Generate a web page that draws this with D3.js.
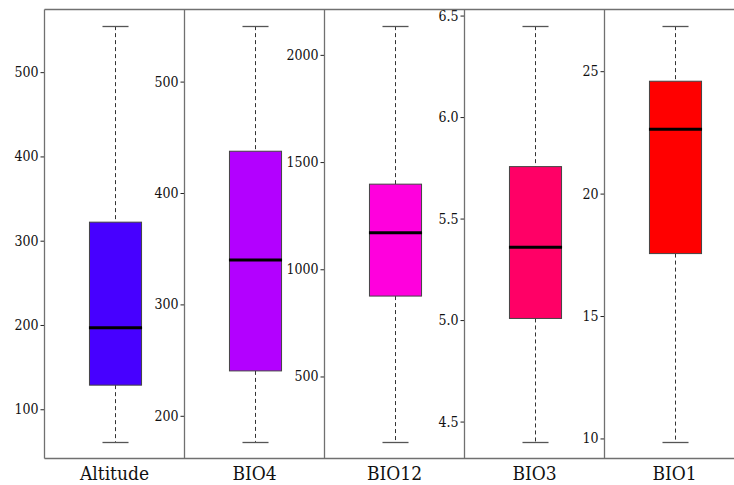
<!DOCTYPE html>
<html>
<head>
<meta charset="utf-8">
<script src="https://cdn.jsdelivr.net/npm/d3@7"></script>
<style>
  html, body { margin: 0; padding: 0; background: #fff; }
  svg { display: block; }
</style>
</head>
<body>
<svg id="chart" width="734" height="485"></svg>
<script>
const categories = ["Altitude", "BIO4", "BIO12", "BIO3", "BIO1"];
const whiskerLow  = [61.3, 176.6, 195, 4.40, 9.86];
const q1          = [128.6, 240.3, 875, 5.008, 17.55];
const medians     = [196.7, 339.8, 1170, 5.359, 22.63];
const q3          = [322, 437.5, 1397, 5.756, 24.59];
const whiskerHigh = [554.6, 549.8, 2134, 6.448, 26.84];
const colors = ["#4700ff", "#b300ff", "#ff00dd", "#ff0066", "#ff0000"];
const tickValues = [
  [100, 200, 300, 400, 500],
  [200, 300, 400, 500],
  [500, 1000, 1500, 2000],
  [4.5, 5.0, 5.5, 6.0, 6.5],
  [10, 15, 20, 25]
];
const tickFormats = ["d", "d", "d", ".1f", "d"];

const serifFont = "'DejaVu Serif Condensed', 'DejaVu Serif', serif";
const svg = d3.select("#chart");
const plotTop = 9.5, plotBottom = 458.5, plotLeft = 44.5, plotRight = 744.5;
const x = d3.scaleBand().domain(categories).range([plotLeft, plotRight]).paddingInner(0).paddingOuter(0);
const bw = x.bandwidth();
const boxW = bw * 0.372;
const capW = boxW * 0.5;
const frameColor = "#707070";

categories.forEach((cat, i) => {
  const lo = whiskerLow[i], hi = whiskerHigh[i];
  const pad = (hi - lo) * 0.04;
  const y = d3.scaleLinear().domain([lo - pad, hi + pad]).range([plotBottom, plotTop]);
  const x0 = x(cat);
  const cx = Math.round(x0 + bw / 2) + 0.5;
  const g = svg.append("g");

  g.append("line").attr("x1", cx).attr("x2", cx).attr("y1", y(hi)).attr("y2", y(q3[i]))
    .attr("stroke", "#333").attr("stroke-width", 1).attr("stroke-dasharray", "4,3");
  g.append("line").attr("x1", cx).attr("x2", cx).attr("y1", y(q1[i])).attr("y2", y(lo))
    .attr("stroke", "#333").attr("stroke-width", 1).attr("stroke-dasharray", "4,3");
  [lo, hi].forEach(v => {
    g.append("line").attr("x1", cx - capW / 2).attr("x2", cx + capW / 2)
      .attr("y1", Math.round(y(v)) + 0.5).attr("y2", Math.round(y(v)) + 0.5)
      .attr("stroke", "#555").attr("stroke-width", 1.3);
  });
  g.append("rect").attr("x", cx - boxW / 2).attr("width", boxW)
    .attr("y", y(q3[i])).attr("height", y(q1[i]) - y(q3[i]))
    .attr("fill", colors[i]).attr("stroke", "#444").attr("stroke-width", 1);
  g.append("line").attr("x1", cx - boxW / 2 - 0.5).attr("x2", cx + boxW / 2 + 0.5)
    .attr("y1", y(medians[i])).attr("y2", y(medians[i]))
    .attr("stroke", "#000").attr("stroke-width", 3);

  const axis = d3.axisLeft(y).tickValues(tickValues[i]).tickFormat(d3.format(tickFormats[i]))
    .tickSizeInner(4).tickSizeOuter(0).tickPadding(2);
  const ag = svg.append("g").attr("transform", `translate(${x0},0)`).call(axis);
  ag.attr("font-family", serifFont).attr("font-size", 14).attr("font-stretch", "condensed");
  ag.select(".domain").remove();
  ag.selectAll(".tick line").attr("stroke", "#222");
  ag.selectAll(".tick text").attr("fill", "#111");

  svg.append("line").attr("x1", x0).attr("x2", x0).attr("y1", plotTop).attr("y2", plotBottom)
    .attr("stroke", frameColor).attr("stroke-width", 1.3);

  svg.append("text").attr("x", x0 + bw / 2).attr("y", 480).attr("text-anchor", "middle")
    .attr("font-family", serifFont).attr("font-size", 19).attr("font-stretch", "condensed")
    .attr("fill", "#111").text(cat);
});

svg.append("line").attr("x1", plotLeft).attr("x2", 734).attr("y1", plotTop).attr("y2", plotTop)
  .attr("stroke", frameColor).attr("stroke-width", 1.3);
svg.append("line").attr("x1", plotLeft).attr("x2", 734).attr("y1", plotBottom).attr("y2", plotBottom)
  .attr("stroke", frameColor).attr("stroke-width", 1.3);
</script>
</body>
</html>
